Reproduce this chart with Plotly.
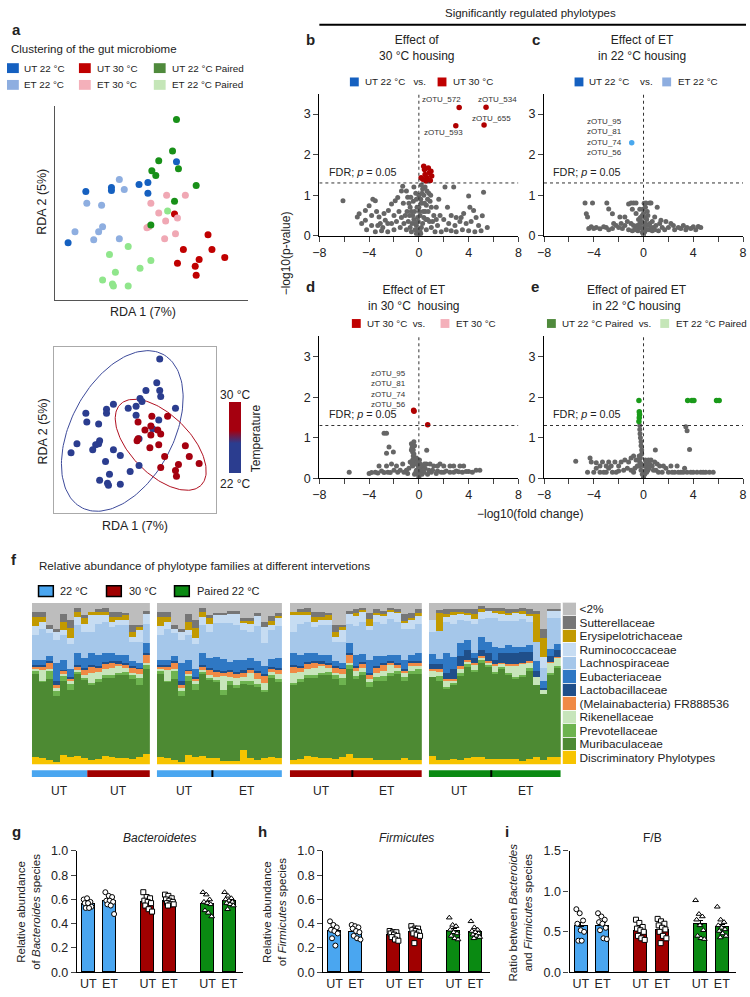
import numpy as np
import plotly.graph_objects as go

W, H = 750, 997
FONT = "Liberation Sans, Arial, Helvetica, sans-serif"

# ---------------- a (top): RDA scores per group ----------------
UT22_RDA = [(-1.2, 0.26), (-0.68, 0.34), (-0.68, 0.28), (-0.12, 0.40), (0.06, 0.44), (0.06, 0.22), (0.64, 0.86), (-1.56, -0.78)]
ET22_RDA = [(-0.52, 0.50), (-0.42, 0.30), (-1.18, 0.02), (-0.88, -0.02), (-1.42, -0.56), (-0.94, -0.56), (-0.86, -0.46), (-1.04, -0.72), (-0.52, -0.70)]
UT30_RDA = [(0.60, -0.20), (1.28, -0.62), (0.78, -0.92), (1.36, -0.92), (1.62, -1.08), (1.10, -1.12), (0.66, -1.20), (1.02, -1.26), (1.04, -1.44)]
ET30_RDA = [(0.44, 0.18), (0.82, 0.18), (0.12, 0.02), (0.28, -0.18), (0.42, -0.34), (0.66, -0.28), (0.08, -0.46), (0.04, -0.48), (0.62, -0.60), (0.40, -0.70)]
UTP_RDA = [(0.64, 1.72), (0.56, 1.08), (0.28, 0.88), (0.68, 0.72), (0.14, 0.68), (0.22, 0.58), (1.04, 0.38), (0.60, 0.06), (0.12, -0.42)]
ETP_RDA = [(0.46, -0.14), (-0.34, -0.86), (-0.72, -1.02), (0.12, -1.14), (-0.10, -1.30), (-0.60, -1.38), (-0.86, -1.54), (-0.66, -1.62), (-0.64, -1.66), (-0.34, -1.66)]
A_GROUPS = ["UT 22 °C", "ET 22 °C", "UT 30 °C", "ET 30 °C", "UT 22 °C Paired", "ET 22 °C Paired"]

# ---------------- a (bottom): RDA by housing temperature ----------------
T22_RDA = [(0.50, 1.46), (0.44, 0.98), (0.50, 0.82), (0.52, 0.70), (0.22, 0.82), (0.10, 0.66), (0.14, 0.60), (-0.44, 0.54),
           (-0.58, 0.44), (-0.58, 0.36), (-1.00, 0.36), (-0.98, 0.18), (-0.74, 0.14), (-0.14, 0.46), (0.02, 0.50), (0.02, 0.32),
           (0.82, 0.46), (0.48, 0.22), (0.36, 0.04), (0.08, -0.16), (-0.72, -0.20), (-0.74, -0.26), (-1.18, -0.26), (-1.30, -0.44),
           (-0.80, -0.28), (-0.86, -0.38), (-0.44, -0.38), (-0.30, -0.50), (-0.60, -0.62), (0.08, -0.70), (-0.10, -0.82),
           (-0.52, -0.88), (-0.72, -1.00), (-0.56, -1.06), (-0.54, -1.10), (-0.30, -1.08)]
T30_RDA = [(0.34, 0.30), (0.66, 0.30), (0.06, 0.18), (0.32, 0.10), (0.46, 0.02), (0.20, 0.02), (0.52, -0.06), (0.32, -0.08),
           (0.04, -0.20), (0.06, -0.16), (0.48, -0.28), (0.30, -0.34), (1.02, -0.30), (0.60, -0.52), (1.10, -0.52), (1.30, -0.66),
           (0.88, -0.68), (0.52, -0.74), (0.82, -0.80), (0.84, -0.92)]
# ellipse: centre x, centre y, semi-major, semi-minor, angle
ELL_22 = (-0.26, 0.0, 1.76, 1.04, 62)
ELL_30 = (0.52, -0.28, 1.16, 0.60, -45)

# ---------------- b-e: volcano plots ----------------
FDR_P = 0.05
B_GREY = [(0, 0.02), (0.1, 0.1), (-0.1, 0.15), (0.2, 0.2), (-0.2, 0.25), (0.3, 0.3), (-0.3, 0.3), (0.4, 0.45), (-0.4, 0.4),
          (0.5, 0.6), (-0.5, 0.5), (0.6, 0.75), (-0.6, 0.6), (0.7, 0.9), (-0.7, 0.7), (0.8, 1.05), (-0.8, 0.8), (0.5, 1.2),
          (0.3, 1.15), (-0.9, 0.95), (-1.0, 1.1), (0.9, 0.85), (1.0, 0.7), (1.2, 0.5), (-1.2, 0.3), (-1.5, 0.2), (1.5, 0.25),
          (0.2, 0.8), (-0.2, 0.9), (0.0, 0.7), (0.1, 0.5), (-0.1, 0.45), (0.4, 1.0), (0.7, 0.4), (-0.7, 0.2), (1.0, 0.2),
          (-1.0, 0.15), (0.0, 1.0), (-0.4, 1.2), (0.2, 1.25), (-2.0, 0.15), (-2.5, 0.1), (-3.0, 0.12), (-3.5, 0.1), (1.8, 0.1),
          (2.2, 0.15), (2.6, 0.12), (3.0, 0.1), (3.5, 0.15), (4.0, 0.12), (4.5, 0.1), (5.0, 0.12), (-1.8, 0.35), (2.0, 0.4),
          (-6.1, 0.86), (-4.95, 0.46), (-4.8, 0.54), (-4.3, 0.62), (-3.7, 0.9), (-3.5, 0.86), (-4.0, 0.74), (-4.3, 0.38),
          (-3.2, 0.46), (-3.1, 0.3), (-2.7, 0.38), (-2.45, 0.62), (-2.2, 0.78), (-1.9, 0.86), (-1.7, 0.94), (-1.4, 1.1),
          (-1.3, 1.22), (-3.8, 0.25), (-2.9, 0.2), (-4.6, 0.3), (-2.2, 0.3), (2.1, 1.2), (2.8, 1.2), (4.0, 0.98), (4.1, 0.7),
          (4.4, 0.62), (4.6, 0.45), (3.3, 0.35), (3.0, 0.45), (3.6, 0.55), (2.6, 0.5), (5.2, 1.07), (5.1, 0.49), (5.5, 0.2),
          (1.6, 0.9), (1.4, 0.7), (2.3, 0.7),
          (-0.05, 0.35), (0.05, 0.6), (0.15, 0.9), (0.25, 1.05), (0.35, 0.6), (0.45, 0.8), (0.55, 0.4), (0.65, 1.1),
          (0.75, 0.6), (0.85, 0.35), (0.95, 1.0), (1.1, 0.35), (-0.15, 0.7), (-0.25, 1.05), (-0.35, 0.6), (-0.45, 0.85),
          (-0.55, 0.3), (-0.65, 0.95), (-0.75, 0.5), (-0.85, 0.35), (-0.95, 0.6), (-1.1, 0.5), (-1.25, 0.8), (-0.3, 0.15),
          (0.6, 0.15), (-0.6, 0.1), (1.3, 0.1), (-1.4, 0.45), (1.4, 0.4), (0.15, 0.05), (-0.2, 0.05),
          (-3.8, 0.5), (-3.4, 0.6), (-2.8, 0.55), (-2.5, 0.3), (-2.0, 0.5), (-1.6, 0.6), (1.7, 0.5), (2.4, 0.3), (2.9, 0.25),
          (3.4, 0.45), (3.8, 0.3), (4.2, 0.35), (4.8, 0.25), (-4.2, 0.15), (-3.3, 0.25)]
B_SIG = [(0.39, 1.71), (0.45, 1.63), (0.5, 1.51), (0.32, 1.39), (0.66, 1.43), (0.84, 1.55), (0.97, 1.59), (1.03, 1.47),
         (0.92, 1.36), (0.58, 1.35), (0.76, 1.67), (0.18, 1.43), (3.24, 3.16), (2.97, 2.71), (5.4, 3.17), (5.24, 2.73)]
C_GREY = [(-4.7, 0.81), (-4.1, 0.81), (-2.95, 0.81), (-4.6, 0.54), (-4.5, 0.46), (-2.8, 0.66), (-2.5, 0.54), (-1.9, 0.46),
          (-1.5, 0.46), (-1.2, 0.78), (-1.0, 0.81), (-0.8, 0.81), (-0.6, 0.81), (-0.9, 0.65), (-0.6, 0.55), (-0.4, 0.4),
          (0.2, 0.81), (0.5, 0.81), (0.6, 0.81), (0.3, 0.6), (0.9, 0.46), (1.4, 0.38), (1.1, 0.7), (0.7, 0.35),
          (0, 0.02), (0.1, 0.1), (-0.1, 0.08), (0.2, 0.15), (-0.2, 0.2), (0.3, 0.25), (-0.3, 0.3), (0.5, 0.3), (-0.5, 0.25),
          (0.8, 0.2), (-0.8, 0.25), (0.0, 0.3), (0.1, 0.45), (-0.1, 0.5), (-0.3, 0.65), (0.15, 0.7), (1.0, 0.25), (-1.0, 0.3),
          (1.5, 0.2), (-1.5, 0.25), (-1.2, 0.15), (1.2, 0.12), (-4.4, 0.18), (-4.0, 0.18), (-3.5, 0.17), (-3.0, 0.2),
          (-2.5, 0.18), (-2.0, 0.2), (-1.8, 0.3), (2.0, 0.2), (2.5, 0.15), (3.0, 0.18), (3.5, 0.2), (4.0, 0.22), (4.4, 0.23),
          (4.6, 0.2), (-2.2, 0.25), (2.2, 0.3), (1.8, 0.35), (3.2, 0.25),
          (-0.05, 0.15), (0.05, 0.2), (0.15, 0.3), (-0.15, 0.35), (0.25, 0.4), (-0.25, 0.45), (0.35, 0.5), (-0.35, 0.2),
          (0.45, 0.15), (-0.45, 0.12), (0.6, 0.2), (-0.6, 0.18), (0.7, 0.12), (-0.7, 0.15), (0.9, 0.15), (-0.9, 0.12),
          (1.3, 0.3), (-1.3, 0.35), (1.7, 0.15), (-1.7, 0.18), (2.4, 0.25), (-2.4, 0.3), (2.8, 0.2), (-2.8, 0.15),
          (3.4, 0.15), (-3.2, 0.22), (3.8, 0.18), (-3.8, 0.2), (4.2, 0.15), (-4.2, 0.22), (0.0, 0.55), (0.05, 0.8),
          (-0.05, 0.65)]
C_SIG = [(-0.95, 2.29)]
D_GREY = [(-5.6, 0.15), (-2.8, 1.11), (-2.6, 1.11), (-2.4, 0.77), (-2.05, 0.65), (-2.6, 0.62), (-0.6, 0.85), (-0.55, 0.75),
          (-0.5, 0.65), (-0.45, 0.55), (-0.4, 0.9), (-0.35, 0.45), (0.63, 0.69), (0, 0.02), (0.1, 0.1), (-0.1, 0.1),
          (0.2, 0.2), (-0.2, 0.2), (0.3, 0.3), (-0.3, 0.35), (0.5, 0.25), (-0.5, 0.3), (0.8, 0.2), (-0.8, 0.25), (0.1, 0.35),
          (-0.1, 0.4), (0.0, 0.25), (1.0, 0.15), (-1.0, 0.2), (0.4, 0.15), (-0.2, 0.5), (-0.7, 0.4), (0.6, 0.35),
          (-4.0, 0.12), (-3.5, 0.15), (-3.0, 0.18), (-2.5, 0.15), (-2.0, 0.2), (-1.5, 0.2), (-1.3, 0.35), (-3.2, 0.3),
          (-2.2, 0.35), (1.5, 0.18), (2.0, 0.15), (2.5, 0.15), (3.0, 0.18), (3.5, 0.15), (4.0, 0.17), (4.6, 0.2), (4.9, 0.2),
          (1.2, 0.3), (1.7, 0.35), (2.5, 0.3), (3.3, 0.3),
          (-0.5, 0.45), (-0.55, 0.35), (-0.45, 0.7), (-0.4, 0.6), (-0.35, 0.8), (-0.6, 0.7), (-0.5, 0.8), (0.05, 0.45),
          (-0.05, 0.3), (0.15, 0.15), (0.25, 0.1), (-0.25, 0.15), (0.35, 0.2), (-0.35, 0.1), (0.45, 0.35), (0.7, 0.1),
          (-0.9, 0.12), (1.1, 0.2), (-1.2, 0.15), (1.4, 0.12), (-1.7, 0.15), (1.8, 0.15), (-2.3, 0.14), (2.2, 0.18),
          (-2.8, 0.14), (2.8, 0.15), (-3.3, 0.13), (3.2, 0.16), (-3.8, 0.14), (3.8, 0.17), (4.3, 0.15), (-1.8, 0.3),
          (-2.6, 0.3), (0.9, 0.35), (1.5, 0.3), (2.0, 0.3), (2.8, 0.3), (3.6, 0.3)]
D_SIG = [(-0.42, 1.68), (-0.39, 1.65), (0.71, 1.32)]
E_GREY = [(-0.3, 1.3), (-0.3, 1.2), (-0.28, 1.1), (-0.25, 1.0), (-0.2, 0.9), (-0.2, 0.8), (-0.15, 0.7), (-0.15, 0.6),
          (0.95, 0.7), (3.4, 1.27), (3.5, 1.17), (3.7, 0.71), (-5.45, 0.42), (-4.2, 0.4), (-3.8, 0.38), (-3.3, 0.4),
          (-2.8, 0.4), (-2.3, 0.4), (-4.3, 0.5), (-3.0, 0.3), (-1.5, 0.45), (-1.0, 0.5), (-0.8, 0.55), (-0.6, 0.45),
          (0, 0.02), (0.1, 0.1), (-0.1, 0.1), (0.2, 0.2), (-0.2, 0.2), (0.3, 0.3), (-0.3, 0.3), (0.5, 0.35), (-0.5, 0.3),
          (0.7, 0.3), (-0.7, 0.25), (0.9, 0.4), (1.0, 0.2), (-1.0, 0.2), (0.4, 0.45), (0.2, 0.4), (1.3, 0.3), (-1.3, 0.25),
          (-4.0, 0.15), (-3.5, 0.15), (-3.0, 0.15), (-2.5, 0.15), (-2.0, 0.18), (-1.6, 0.2), (1.5, 0.15), (2.0, 0.15),
          (2.5, 0.15), (3.0, 0.15), (3.5, 0.15), (4.0, 0.15), (4.6, 0.15), (5.0, 0.15), (5.6, 0.15), (2.7, 0.3),
          (3.3, 0.25), (1.8, 0.25),
          (-0.25, 0.5), (-0.3, 0.4), (-0.2, 0.35), (-0.35, 0.55), (-0.4, 0.45), (-0.45, 0.3), (0.05, 0.3), (0.15, 0.45),
          (0.25, 0.15), (0.35, 0.2), (0.45, 0.25), (0.6, 0.45), (0.8, 0.2), (1.1, 0.35), (1.2, 0.15), (-0.8, 0.15),
          (-1.2, 0.4), (-1.8, 0.4), (-2.0, 0.3), (-2.6, 0.3), (-3.5, 0.3), (-3.8, 0.25), (-4.5, 0.15), (1.6, 0.3),
          (2.2, 0.3), (2.3, 0.15), (2.8, 0.15), (3.2, 0.15), (3.8, 0.15), (4.3, 0.15), (4.8, 0.15), (5.3, 0.15),
          (-2.2, 0.15), (-2.8, 0.25), (-3.2, 0.15)]
E_SIG = [(-0.37, 1.92), (-0.34, 1.64), (-0.32, 1.57), (-0.34, 1.49), (-0.37, 1.40), (3.55, 1.92), (3.89, 1.92),
         (4.05, 1.92), (5.87, 1.92), (6.08, 1.92)]

# ---------------- f: relative abundance (%), families listed top -> bottom ----------------
FAMILIES = ["<2%", "Sutterellaceae", "Erysipelotrichaceae", "Ruminococcaceae", "Lachnospiraceae", "Eubacteriaceae",
            "Lactobacillaceae", "(Melainabacteria) FR888536", "Rikenellaceae", "Prevotellaceae", "Muribaculaceae",
            "Discriminatory Phylotypes"]
F_UT22 = [[5.7, 3.0, 5.5, 5.3, 15.7, 3.0, 1.0, 1.6, 1.4, 1.6, 51.6, 4.5],
          [5.3, 3.5, 3.0, 4.1, 19.3, 3.0, 1.0, 2.0, 7.1, 0.5, 47.4, 3.9],
          [13.4, 2.4, 0, 3.0, 14.2, 3.0, 1.0, 3.7, 1.4, 5.1, 49.8, 2.8],
          [15.9, 2.0, 0, 5.1, 14.2, 11.2, 2.0, 2.4, 1.2, 3.5, 40.7, 1.8],
          [6.7, 5.1, 5.1, 3.0, 15.2, 6.1, 0.6, 2.0, 0.8, 3.7, 45.7, 5.9],
          [10.8, 4.7, 6.1, 3.5, 15.7, 4.9, 0.8, 2.0, 1.6, 4.1, 41.1, 4.9],
          [3.3, 2.4, 3.0, 5.1, 17.3, 7.1, 1.4, 1.6, 1.4, 1.2, 50.8, 5.3],
          [7.7, 1.0, 4.1, 5.1, 16.3, 6.1, 0.6, 3.5, 2.0, 1.0, 48.8, 3.9]]
F_UT30 = [[5.7, 0, 2.0, 10.2, 13.2, 7.1, 1.0, 4.1, 6.1, 1.0, 46.7, 2.8],
          [3.7, 1.6, 2.0, 5.5, 19.3, 7.1, 0.6, 2.8, 4.7, 1.0, 48.4, 3.3],
          [3.3, 2.4, 2.0, 4.1, 19.3, 5.1, 1.6, 2.8, 4.1, 1.2, 48.8, 5.3],
          [5.7, 3.0, 3.0, 3.0, 16.3, 4.7, 1.4, 3.0, 4.1, 2.4, 48.8, 4.5],
          [5.7, 3.0, 2.0, 3.0, 18.3, 4.1, 1.0, 2.0, 4.1, 1.4, 51.4, 3.9],
          [6.1, 1.6, 3.0, 3.0, 18.3, 5.1, 1.0, 2.0, 2.4, 2.0, 51.4, 3.9],
          [13.8, 4.1, 3.0, 3.0, 12.2, 3.0, 0.6, 3.5, 1.4, 2.6, 49.4, 3.3],
          [13.8, 1.0, 2.0, 7.1, 13.2, 3.0, 0.4, 3.3, 2.8, 4.1, 44.3, 4.9],
          [4.7, 2.0, 0, 6.1, 12.2, 6.1, 1.0, 5.0, 1.6, 2.4, 52.8, 6.9]]
F_ET22 = [[6, 1.5, 0, 5, 21, 8, 1, 3, 2, 1.5, 47, 4],
          [6, 1.5, 0, 5, 22, 7, 1, 2, 9, 3, 40, 2.5],
          [5, 1.5, 0, 6, 24, 5, 1, 3, 3, 2, 47, 2.5],
          [5, 1.5, 0, 7, 22, 7, 1, 3, 4, 2, 45, 2.5],
          [9, 2, 1.5, 4, 19, 6, 1.5, 3, 2, 2, 41, 9],
          [9, 2, 2, 5, 16, 6, 1, 2, 5, 3, 45, 4],
          [6, 2, 0, 6, 22, 6, 1, 4, 3, 2, 45, 3],
          [12, 3, 0, 10, 14, 5, 1, 5, 4, 1.5, 41, 4],
          [8, 3, 3, 3, 18, 5, 1, 2, 2, 2, 49, 5],
          [6, 2, 1, 5, 20, 6, 1, 3, 3, 2, 47, 4]]
F_ET30 = [[4, 2, 2, 6, 18, 7, 1, 2, 3, 2, 49, 4],
          [3, 1.5, 1, 6, 20, 5, 1, 3, 2, 2, 51.5, 4],
          [6, 4, 4, 3, 18, 8, 1, 3, 2, 3, 44, 4],
          [4, 2, 1, 5, 21, 6, 1, 3, 3, 2, 49, 3],
          [5, 2, 1, 5, 20, 4, 1, 4, 3, 3, 49, 3],
          [3, 1, 1, 5, 22, 4, 1, 1, 5, 2, 52, 3],
          [4, 1, 1, 6, 20, 5, 1, 2, 2, 2, 53, 3],
          [7, 4, 1, 4, 19, 6, 1, 1, 3, 2, 48, 4],
          [6, 3, 1, 6, 16, 4, 1, 2, 3, 2, 53, 3],
          [4, 2, 2, 5, 18, 5, 1, 2, 2, 3, 53, 3]]
F_UTP = [[10.5, 0, 0, 7, 13, 6, 3, 1, 4, 0, 48, 5],
         [4, 2, 11, 0, 17, 3, 3, 2, 2.5, 2.5, 48, 3],
         [3.7, 3, 2, 3, 19, 12, 4, 1, 4, 1, 43.6, 3],
         [3.7, 2, 2, 5, 21, 7, 6, 1, 2, 1, 46, 3.3],
         [3.7, 2, 1, 4, 14, 8, 6, 1.5, 3, 1, 52, 3],
         [4, 2, 1, 4, 12, 6, 6, 1, 2, 1, 57, 4],
         [4, 3, 3, 3, 18, 3, 3, 1.5, 3, 1, 53, 4.5],
         [2, 2, 1, 5, 11, 8, 4, 0.5, 2, 1, 59, 4.5],
         [3, 2, 0, 4, 15, 7, 5, 0.5, 2, 1, 57, 3.5]]
F_ETP = [[3, 2, 1, 3, 18, 8, 3, 0.5, 4, 1, 53, 3.5],
         [3, 2, 2, 4, 17, 3, 6, 0.5, 2, 1, 56, 3.5],
         [4, 2, 1, 4, 15, 5, 7, 0.5, 5, 1, 52, 3.5],
         [4, 1, 1, 5, 16, 4, 7, 0.5, 7, 1, 50, 3.5],
         [3, 2, 2, 3, 17, 3, 7, 0.5, 7, 1, 52, 2.5],
         [4, 3, 1, 4, 14, 4, 6, 0.5, 4, 1, 55, 3.5],
         [5, 2, 17, 0, 12, 6, 4, 0, 5, 0, 44, 5],
         [16, 5.5, 11.5, 7, 8, 4, 1, 0, 3, 0, 40.5, 3],
         [3.5, 1, 0, 5, 19, 4, 4, 0.5, 6, 1, 51, 5],
         [3.5, 1.5, 0, 4, 16, 4, 4, 0.5, 5, 1.5, 54, 5]]

# ---------------- g-i: per-mouse values ----------------
BAR_GROUPS = ["UT", "ET", "UT", "ET", "UT", "ET"]
BACTEROIDETES = [[0.60, 0.61, 0.58, 0.57, 0.57, 0.54, 0.53, 0.53],
                 [0.66, 0.63, 0.62, 0.59, 0.59, 0.58, 0.56, 0.55, 0.48],
                 [0.66, 0.62, 0.61, 0.59, 0.58, 0.57, 0.55, 0.52, 0.50],
                 [0.64, 0.63, 0.61, 0.60, 0.59, 0.58, 0.57, 0.56, 0.56, 0.55],
                 [0.66, 0.64, 0.60, 0.58, 0.57, 0.56, 0.51, 0.49, 0.46],
                 [0.66, 0.63, 0.61, 0.60, 0.59, 0.58, 0.57, 0.56, 0.55, 0.52]]
FIRMICUTES = [[0.42, 0.39, 0.37, 0.35, 0.34, 0.32, 0.28, 0.22],
              [0.39, 0.38, 0.37, 0.36, 0.34, 0.33, 0.30, 0.28, 0.27],
              [0.34, 0.33, 0.33, 0.32, 0.31, 0.30, 0.29, 0.27, 0.26],
              [0.38, 0.36, 0.36, 0.35, 0.34, 0.33, 0.32, 0.31, 0.30, 0.24],
              [0.45, 0.39, 0.38, 0.35, 0.33, 0.32, 0.30, 0.28, 0.27],
              [0.42, 0.37, 0.35, 0.34, 0.33, 0.32, 0.31, 0.30, 0.29, 0.28]]
FB_RATIO = [[0.78, 0.73, 0.64, 0.60, 0.52, 0.50, 0.39, 0.39],
            [0.73, 0.69, 0.65, 0.62, 0.60, 0.55, 0.52, 0.42, 0.41],
            [0.65, 0.61, 0.56, 0.54, 0.52, 0.50, 0.45, 0.42, 0.40],
            [0.66, 0.63, 0.60, 0.58, 0.55, 0.53, 0.50, 0.45, 0.42, 0.36],
            [0.89, 0.72, 0.69, 0.65, 0.58, 0.52, 0.45, 0.42, 0.41],
            [0.81, 0.65, 0.62, 0.58, 0.55, 0.53, 0.51, 0.48, 0.45, 0.43]]

# ---------------- styles ----------------
A_COLORS = ["#1560c0", "#8eaee0", "#c00000", "#f0a8b4", "#189018", "#90e68c"]
A_LEG_COLORS = ["#1560c0", "#8eaee0", "#c00000", "#f4b0ba", "#4f8a3c", "#c5e6b8"]
FAM_COLORS = ["#bdbdbd", "#767676", "#c29a00", "#c6dcf2", "#a5c7ea", "#2f78c4", "#1f4f8a", "#f08a45",
              "#c7e5bb", "#6db34f", "#4d8a33", "#f7c400"]
C_BLUE, C_RED, C_GREEN = "#4aa6f0", "#a00000", "#0a8a12"
BAR_COLORS = [C_BLUE, C_BLUE, C_RED, C_RED, C_GREEN, C_GREEN]
BAR_SYMBOLS = ["circle", "circle", "square", "square", "triangle-up", "triangle-up"]
POS = [0, 1, 2.75, 3.75, 5.5, 6.5]


def px(x):
    return x / W


def py(y):
    return 1 - y / H


def xdom(a, b):
    return [px(a), px(b)]


def ydom(top, bottom):
    return [py(bottom), py(top)]


fig = go.Figure()
layout = dict(width=W, height=H, margin=dict(l=0, r=0, t=0, b=0), paper_bgcolor="white",
              plot_bgcolor="white", showlegend=False, barmode="stack", bargap=0,
              font=dict(family=FONT, size=11, color="#222"))
ann = []
shapes = []


def axes(i, xd, yd, xr, yr, xextra=None, yextra=None):
    xa = dict(domain=xd, anchor="y%d" % i, range=xr, showgrid=False, zeroline=False,
              showticklabels=False, ticks="", showline=False)
    ya = dict(domain=yd, anchor="x%d" % i, range=yr, showgrid=False, zeroline=False,
              showticklabels=False, ticks="", showline=False)
    xa.update(xextra or {})
    ya.update(yextra or {})
    layout["xaxis%s" % ("" if i == 1 else i)] = xa
    layout["yaxis%s" % ("" if i == 1 else i)] = ya


def ref(i):
    return ("x" if i == 1 else "x%d" % i), ("y" if i == 1 else "y%d" % i)


def text(x, y, s, size=11, xanchor="left", yanchor="middle", **kw):
    ann.append(dict(x=px(x), y=py(y), xref="paper", yref="paper", text=s, showarrow=False,
                    xanchor=xanchor, yanchor=yanchor, font=dict(size=size, color=kw.pop("color", "#222")), **kw))


def box(x0, y0, x1, y1, color, lc=None, lw=0):
    shapes.append(dict(type="rect", xref="paper", yref="paper", x0=px(x0), x1=px(x1), y0=py(y1), y1=py(y0),
                       fillcolor=color, line=dict(color=lc or color, width=lw)))


# ================= panel a top =================
line_a = dict(showline=True, linecolor="#555", linewidth=1)
axes(1, xdom(49, 245), ydom(100, 297), [-1.82, 2.1], [-1.94, 2.0], line_a, line_a)
for pts, col in zip([UT22_RDA, ET22_RDA, UT30_RDA, ET30_RDA, UTP_RDA, ETP_RDA], A_COLORS):
    fig.add_trace(go.Scatter(x=[p[0] for p in pts], y=[p[1] for p in pts], mode="markers",
                             marker=dict(size=7, color=col), xaxis="x", yaxis="y"))
text(3, 23, "<b>a</b>", size=15)
text(2, 43, "Clustering of the gut microbiome", size=11.5)
leg_x = [(0, 15), (73, 89), (149, 165)]
for k, name in enumerate(A_GROUPS):
    col, row = k // 2, k % 2
    yc = 62 if row == 0 else 79
    box(leg_x[col][0], yc - 5, leg_x[col][0] + 12, yc + 5, A_LEG_COLORS[k])
    text(leg_x[col][1], yc, name, size=9.9)
text(138, 309, "RDA 1 (7%)", size=12.5, xanchor="center")
text(36, 197, "RDA 2 (5%)", size=12.5, xanchor="center", textangle=-90)

# ================= panel a bottom =================
frame = dict(showline=True, linecolor="#aaa", linewidth=1, mirror=True)
axes(2, xdom(48, 212), ydom(345, 513), [-1.64, 1.64], [-1.66, 1.70], frame, frame)


def ellipse(cx, cy, a, b, ang):
    t = np.linspace(0, 2 * np.pi, 160)
    th = np.radians(ang)
    return (cx + a * np.cos(t) * np.cos(th) - b * np.sin(t) * np.sin(th),
            cy + a * np.cos(t) * np.sin(th) + b * np.sin(t) * np.cos(th))


for ell, col in [(ELL_22, "#3d4a9a"), (ELL_30, "#b01020")]:
    ex, ey = ellipse(*ell)
    fig.add_trace(go.Scatter(x=ex, y=ey, mode="lines", line=dict(color=col, width=1), xaxis="x2", yaxis="y2"))
temps = [22] * len(T22_RDA) + [30] * len(T30_RDA)
allp = T22_RDA + T30_RDA
fig.add_trace(go.Scatter(
    x=[p[0] for p in allp], y=[p[1] for p in allp], mode="markers", xaxis="x2", yaxis="y2",
    marker=dict(size=7, color=temps, cmin=22, cmax=30,
                colorscale=[[0, "#2b3d8f"], [0.42, "#2b3d8f"], [0.6, "#a5000f"], [1, "#a5000f"]],
                showscale=True,
                colorbar=dict(x=px(225), xanchor="left", y=py(437), yanchor="middle", len=71, lenmode="pixels",
                              thickness=12, thicknessmode="pixels", showticklabels=False, ticks="",
                              outlinewidth=0, xpad=0, ypad=0))))
text(231, 394, "30 °C", size=12, xanchor="center")
text(231, 484, "22 °C", size=12, xanchor="center")
text(253, 437, "Temperature", size=12, xanchor="center", textangle=-90)
text(130, 526, "RDA 1 (7%)", size=12.5, xanchor="center")
text(36, 430, "RDA 2 (5%)", size=12.5, xanchor="center", textangle=-90)

# ================= panels b-e =================
fdr = -np.log10(FDR_P)
vx = dict(showline=True, linecolor="black", linewidth=1.3, ticks="outside", ticklen=5, tickwidth=1.3,
          showticklabels=True, tickvals=[-8, -6, -4, -2, 0, 2, 4, 6, 8],
          ticktext=["−8", "", "−4", "", "0", "", "4", "", "8"], tickfont=dict(size=12.5, color="#222"))
vy = dict(showline=True, linecolor="black", linewidth=1.3, ticks="outside", ticklen=5, tickwidth=1.3,
          showticklabels=True, tickvals=[0, 1, 2, 3], tickfont=dict(size=12.5, color="#222"))
volc = [
    (3, xdom(317, 519), ydom(88, 232), B_GREY, B_SIG, "#b00000"),
    (4, xdom(545, 747), ydom(88, 232), C_GREY, C_SIG, "#4aa8ee"),
    (5, xdom(317, 519), ydom(334, 478), D_GREY, D_SIG, "#b00000"),
    (6, xdom(545, 747), ydom(334, 478), E_GREY, E_SIG, "#1a9a1a"),
]
for i, xd, yd, grey, sig, col in volc:
    axes(i, xd, yd, [-8, 8], [0, 3.5], vx, vy)
    xr, yr = ref(i)
    fig.add_trace(go.Scatter(x=[p[0] for p in grey], y=[p[1] for p in grey], mode="markers",
                             marker=dict(size=5, color="#666"), xaxis=xr, yaxis=yr))
    fig.add_trace(go.Scatter(x=[p[0] for p in sig], y=[p[1] for p in sig], mode="markers",
                             marker=dict(size=5.5, color=col), xaxis=xr, yaxis=yr))
    shapes.append(dict(type="line", xref=xr, yref=yr, x0=0, x1=0, y0=0, y1=3.5,
                       line=dict(color="#333", width=1, dash="dot")))
    shapes.append(dict(type="line", xref=xr, yref=yr, x0=-8, x1=8, y0=fdr, y1=fdr,
                       line=dict(color="#333", width=1, dash="dot")))
    ann.append(dict(x=-7.4, y=fdr + 0.08, xref=xr, yref=yr, text="FDR; <i>p</i> = 0.05", showarrow=False,
                    xanchor="left", yanchor="bottom", font=dict(size=10.8, color="#222")))


def zlab(i, x, y, s, xanchor="center", align="center"):
    xr, yr = ref(i)
    ann.append(dict(x=x, y=y, xref=xr, yref=yr, text=s, showarrow=False, xanchor=xanchor, yanchor="middle",
                    align=align, font=dict(size=8, color="#333")))


zlab(3, 1.85, 3.37, "zOTU_572")
zlab(3, 1.98, 2.54, "zOTU_593")
zlab(3, 6.3, 3.37, "zOTU_534")
zlab(3, 5.83, 2.9, "zOTU_655")
four = "zOTU_95<br>zOTU_81<br>zOTU_74<br>zOTU_56"
zlab(4, -1.55, 2.43, four, xanchor="right", align="left")
zlab(5, -0.85, 2.19, four, xanchor="right", align="left")

# header
text(531, 6, "Significantly regulated phylotypes", size=11.5, xanchor="center")
shapes.append(dict(type="line", xref="paper", yref="paper", x0=px(317), x1=1, y0=py(18), y1=py(18),
                   line=dict(color="black", width=2)))
# titles and mini legends
text(301, 33, "<b>b</b>", size=15)
text(531, 33, "<b>c</b>", size=15)
text(301, 283, "<b>d</b>", size=15)
text(530, 283, "<b>e</b>", size=15)
text(416, 42, "Effect of<br>30 °C housing", size=12, xanchor="center")
text(644, 42, "Effect of ET<br>in 22 °C housing", size=12, xanchor="center")
text(413, 295, "Effect of ET<br>in 30 °C  housing", size=12, xanchor="center")
text(639, 295, "Effect of paired ET<br>in 22 °C housing", size=12, xanchor="center")
for (sx, s1, c1, sx2, s2, c2, yc) in [
    (348, "UT 22 °C   vs.", A_COLORS[0], 437, "UT 30 °C", A_COLORS[2], 76),
    (576, "UT 22 °C    vs.", A_COLORS[0], 665, "ET 22 °C", A_LEG_COLORS[1], 76),
    (350, "UT 30 °C  vs.", A_COLORS[2], 440, "ET 30 °C", A_LEG_COLORS[3], 321),
    (548, "UT 22 °C Paired  vs.", A_LEG_COLORS[4], 663, "ET 22 °C Paired", A_LEG_COLORS[5], 321),
]:
    box(sx, yc - 4.5, sx + 9, yc + 4.5, c1)
    text(sx + 13, yc, s1, size=9.8)
    box(sx2, yc - 4.5, sx2 + 9, yc + 4.5, c2)
    text(sx2 + 14, yc, s2, size=9.8)
text(284, 250, "−log10(p-value)", size=12, xanchor="center", textangle=-90)
text(531, 514, "−log10(fold change)", size=12, xanchor="center")

# ================= panel f =================
f_panels = [
    (7, xdom(25, 145), F_UT22, F_UT30, C_BLUE, C_RED, "UT", "UT", False),
    (8, xdom(152, 279), F_UT22, F_ET22, C_BLUE, C_BLUE, "UT", "ET", True),
    (9, xdom(287, 421), F_UT30, F_ET30, C_RED, C_RED, "UT", "ET", True),
    (10, xdom(428, 562), F_UTP, F_ETP, C_GREEN, C_GREEN, "UT", "ET", True),
]
for i, xd, g1, g2, c1, c2, l1, l2, divider in f_panels:
    arr = np.array(g1 + g2, dtype=float)
    arr = arr / arr.sum(axis=1, keepdims=True) * 100
    n, n1 = len(arr), len(g1)
    axes(i, xd, ydom(604, 768), [-0.5, n - 0.5], [0, 100])
    xr, yr = ref(i)
    for j in reversed(range(len(FAMILIES))):
        fig.add_trace(go.Bar(x=list(range(n)), y=arr[:, j], marker=dict(color=FAM_COLORS[j], line=dict(width=0)),
                             xaxis=xr, yaxis=yr))
    for x0, x1, c in [(-0.5, n1 - 0.5, c1), (n1 - 0.5, n - 0.5, c2)]:
        shapes.append(dict(type="rect", xref=xr, yref="paper", x0=x0, x1=x1, y0=py(781), y1=py(774),
                           fillcolor=c, line=dict(width=0)))
    if divider:
        shapes.append(dict(type="line", xref=xr, yref="paper", x0=n1 - 0.5, x1=n1 - 0.5, y0=py(781), y1=py(774),
                           line=dict(color="black", width=2)))
    for xc, lab in [((n1 - 1) / 2, l1), ((n1 + n - 1) / 2, l2)]:
        ann.append(dict(x=xc, y=py(795), xref=xr, yref="paper", text=lab, showarrow=False,
                        xanchor="center", yanchor="middle", font=dict(size=12, color="#222")))

# family legend column
axes(11, xdom(564, 578), ydom(604, 768), [-0.5, 0.5], [0, len(FAMILIES)], None,
     dict(side="right", showticklabels=True, tickvals=[len(FAMILIES) - 1 - j + 0.5 for j in range(len(FAMILIES))],
          ticktext=FAMILIES, tickfont=dict(size=11.8, color="#222"), ticklabelstandoff=2))
for j in reversed(range(len(FAMILIES))):
    fig.add_trace(go.Bar(x=[0], y=[1], marker=dict(color=FAM_COLORS[j], line=dict(color="white", width=0.6)),
                         xaxis="x11", yaxis="y11"))

text(2, 560, "<b>f</b>", size=15)
text(30, 566, "Relative abundance of phylotype families at different intervetions", size=11.6)
for bx, tx, c, s in [(32, 52, C_BLUE, "22 °C"), (101, 122, C_RED, "30 °C"), (170, 191, C_GREEN, "Paired 22 °C")]:
    box(bx, 587, bx + 15, 598, c, lc="black", lw=1.5)
    text(tx, 592.5, s, size=11)

# ================= panels g-i =================
g_panels = [
    (12, 71, BACTEROIDETES, [0, 1.0], [0, 0.2, 0.4, 0.6, 0.8, 1.0], "<i>Bacteroidetes</i>",
     "Relative abundance<br>of <i>Bacteroides</i> species", "g"),
    (13, 321, FIRMICUTES, [0, 1.0], [0, 0.2, 0.4, 0.6, 0.8, 1.0], "<i>Firmicutes</i>",
     "Relative abundance<br>of <i>Firmicutes</i> species", "h"),
    (14, 571, FB_RATIO, [0, 1.5], [0, 0.5, 1.0, 1.5], "F/B",
     "Ratio between <i>Bacteroides</i><br>and <i>Firmicutes</i> species", "i"),
]
for i, x0, vals, yr_, yt, title, ytitle, letter in g_panels:
    gx = dict(showline=True, linecolor="black", linewidth=1.3, showticklabels=True, tickvals=POS,
              ticktext=BAR_GROUPS, tickfont=dict(size=12.5, color="#222"))
    gy = dict(showline=True, linecolor="black", linewidth=1.3, ticks="outside", ticklen=5, tickwidth=1.3,
              showticklabels=True, tickvals=yt, tickformat=".1f", tickfont=dict(size=12.5, color="#222"))
    axes(i, xdom(x0, x0 + 169), ydom(856, 979), [-0.52, 7.16], yr_, gx, gy)
    xr, yr = ref(i)
    means = [float(np.mean(v)) for v in vals]
    sems = [float(np.std(v, ddof=1) / np.sqrt(len(v))) for v in vals]
    fig.add_trace(go.Bar(x=POS, y=means, width=0.6, marker=dict(color=BAR_COLORS, line=dict(color="black", width=1)),
                         error_y=dict(type="data", symmetric=False, array=sems, arrayminus=[0] * 6,
                                      color="black", thickness=1, width=3),
                         xaxis=xr, yaxis=yr))
    for k, v in enumerate(vals):
        off = ((np.arange(len(v)) * 0.37) % 1 - 0.5) * 0.42
        fig.add_trace(go.Scatter(x=[POS[k] + o for o in off], y=v, mode="markers",
                                 marker=dict(symbol=BAR_SYMBOLS[k], size=5, color="white",
                                             line=dict(color="black", width=1)),
                                 xaxis=xr, yaxis=yr))
    text(x0 + 84, 843, title, size=12, xanchor="center")
    text(x0 - 50, 918, ytitle, size=11.5, xanchor="center", textangle=-90)
    text(x0 - 68, 836, "<b>%s</b>" % letter, size=15)

layout["annotations"] = ann
layout["shapes"] = shapes
fig.update_layout(**layout)
fig.write_html("out.html", config={"displayModeBar": False},
               post_script="document.body.style.margin='0px';document.body.style.overflow='hidden';")
